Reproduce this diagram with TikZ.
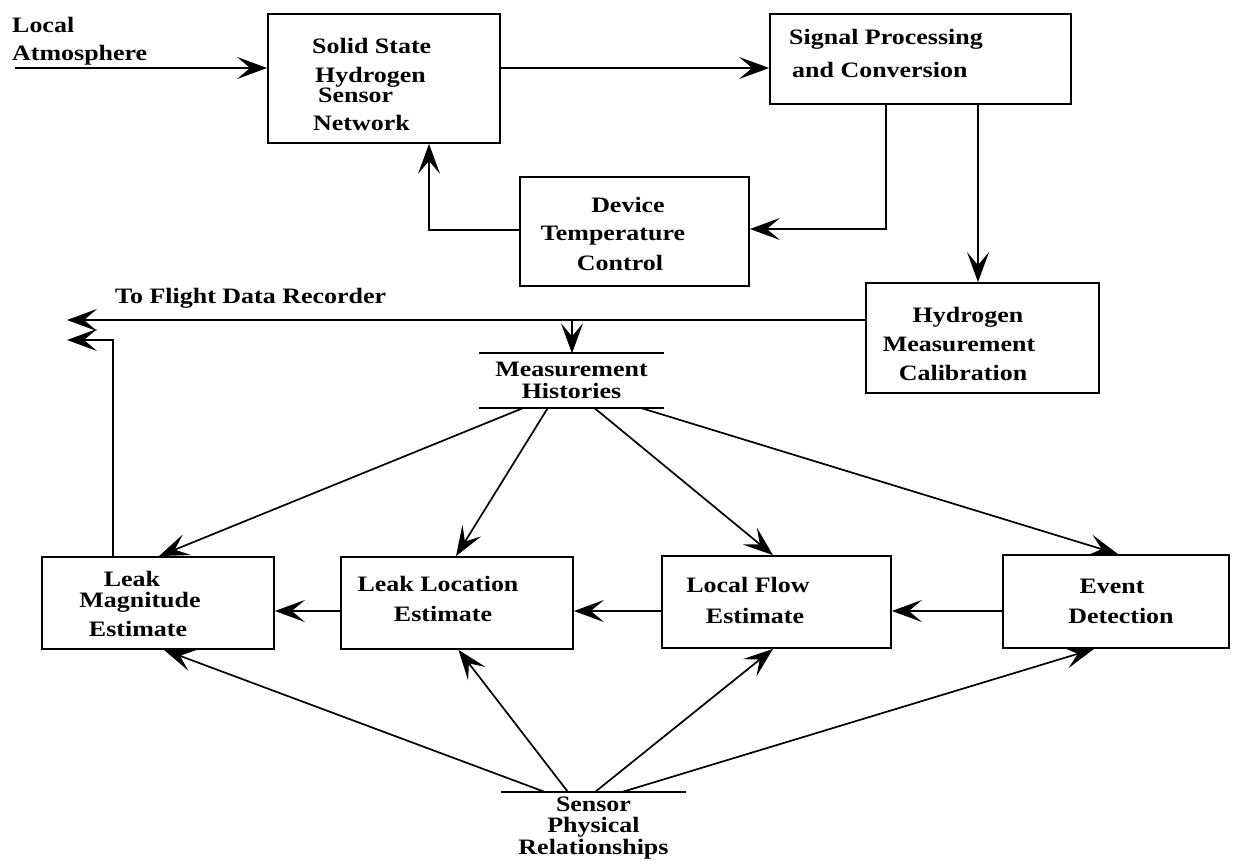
\documentclass[tikz,border=0pt]{standalone}
\usepackage{fontspec}
\setmainfont{Liberation Serif}[FakeStretch=1.18]
\usetikzlibrary{arrows.meta}
\begin{document}
\begin{tikzpicture}[x=1pt,y=-1pt,
  box/.style={draw, line width=1.8pt, inner sep=0pt},
  lbl/.style={font=\bfseries\fontsize{22}{26}\selectfont, inner sep=0pt, align=center},
  conn/.style={line width=1.7pt},
  arr/.style={conn, -{Stealth[length=30pt,width=22pt,inset=13pt]}}
]
\useasboundingbox (0,0) rectangle (1235,862);

% boxes
\node[box, minimum width=232pt, minimum height=129pt] (ss)  at (384,78.5) {};
\node[box, minimum width=301pt, minimum height=90pt]  (sig) at (920.5,59) {};
\node[box, minimum width=229pt, minimum height=109pt] (dev) at (634.5,231.5) {};
\node[box, minimum width=233pt, minimum height=110pt] (hmc) at (982.5,338) {};
\node[box, minimum width=232pt, minimum height=92pt]  (lm)  at (158,603) {};
\node[box, minimum width=232pt, minimum height=92pt]  (ll)  at (457,603) {};
\node[box, minimum width=229pt, minimum height=92pt]  (lf)  at (776.5,602) {};
\node[box, minimum width=226pt, minimum height=93pt]  (ev)  at (1116,601.5) {};

% box texts (anchor base = baseline of last line)
\node[lbl, align=left, anchor=base west] (laT) at (12,60) {Local\\[2pt]Atmosphere};
\node[lbl, align=left, anchor=base west] (ssT) at (312,130)
  {Solid State\\[3pt]\hspace*{3pt}Hydrogen\\[-6pt]\hspace*{6pt}Sensor\\[2pt]\hspace*{1pt}Network};
\node[lbl, align=left, anchor=base west] (sigT) at (789,77) {Signal Processing\\[7pt]\hspace*{3pt}and Conversion};
\node[lbl, anchor=base] (devT) at (620,270)
  {\hspace*{16pt}Device\\[2pt]\hspace*{-14pt}Temperature\\[4pt]Control};
\node[lbl, anchor=base] (hmcT) at (963,380)
  {\hspace*{10pt}Hydrogen\\[3pt]\hspace*{-8pt}Measurement\\[3pt]Calibration};
\node[lbl, align=left, anchor=base west] (fdrT) at (115,303) {To Flight Data Recorder};
\node[lbl, anchor=base] (lmT) at (138,636)
  {\hspace*{-12pt}Leak\\[-5pt]\hspace*{4pt}Magnitude\\[3pt]Estimate};
\node[lbl, anchor=base] (llT) at (440,621) {\hspace*{-4pt}Leak Location\\[4pt]\hspace*{6pt}Estimate};
\node[lbl, anchor=base] (lfT) at (751,623) {\hspace*{-6pt}Local Flow\\[5pt]\hspace*{8pt}Estimate};
\node[lbl, anchor=base] (evT) at (1117,623) {\hspace*{-10pt}Event\\[4pt]\hspace*{8pt}Detection};

% stores
\node[lbl, minimum width=185pt, minimum height=54pt] (mh) at (571.5,380.5) {Measurement\\[-4pt]Histories};
\draw[conn] (mh.north west) -- (mh.north east);
\draw[conn] (mh.south west) -- (mh.south east);
\node[lbl, anchor=north, minimum width=185pt, inner ysep=5pt] (sp) at (593.5,792)
  {Sensor\\[-5pt]Physical\\[-4pt]Relationships};
\draw[conn] (sp.north west) -- (sp.north east);

% helper coordinates
\coordinate (la) at (15,68);
\coordinate (k1) at (886,229);
\coordinate (k2) at (429,230);
\coordinate (k3) at (978,200);
\coordinate (fdr1) at (67,320);
\coordinate (k4) at (572,320);
\coordinate (fdr2) at (67,340);
\coordinate (k5) at (113,340);
\coordinate (hy) at (0,611);

% top flow
\draw[arr] (la) -- (ss.west |- la);
\draw[arr] (ss.east |- la) -- (sig.west |- la);
\draw[arr] (sig.south -| k1) -- (k1) -- (dev.east |- k1);
\draw[arr] (dev.west |- k2) -- (k2) -- (ss.south -| k2);
\draw[arr] (sig.south -| k3) -- (hmc.north -| k3);
\draw[arr] (hmc.west |- fdr1) -- (fdr1);
\draw[arr] (k4) -- (mh.north -| k4);
\draw[arr] (lm.north -| k5) -- (k5) -- (fdr2);

% measurement histories to estimators
\draw[arr] ([xshift=-47.5pt]mh.south) -- ([xshift=1pt]lm.north);
\draw[arr] ([xshift=-23.5pt]mh.south) -- ([xshift=-1pt]ll.north);
\draw[arr] ([xshift=22.5pt]mh.south) -- ([xshift=-3.5pt]lf.north);
\draw[arr] ([xshift=68.5pt]mh.south) -- ([xshift=2pt]ev.north);

% chain
\draw[arr] (ev.west |- hy) -- (lf.east |- hy);
\draw[arr] (lf.west |- hy) -- (ll.east |- hy);
\draw[arr] (ll.west |- hy) -- (lm.east |- hy);

% sensor physical relationships
\draw[arr] ([xshift=-48.5pt]sp.north) -- ([xshift=6pt]lm.south);
\draw[arr] ([xshift=-25.5pt]sp.north) -- ([xshift=1.5pt]ll.south);
\draw[arr] ([xshift=1.5pt]sp.north) -- ([xshift=-3.5pt]lf.south);
\draw[arr] ([xshift=28.5pt]sp.north) -- ([xshift=-22pt]ev.south);
\end{tikzpicture}
\end{document}
